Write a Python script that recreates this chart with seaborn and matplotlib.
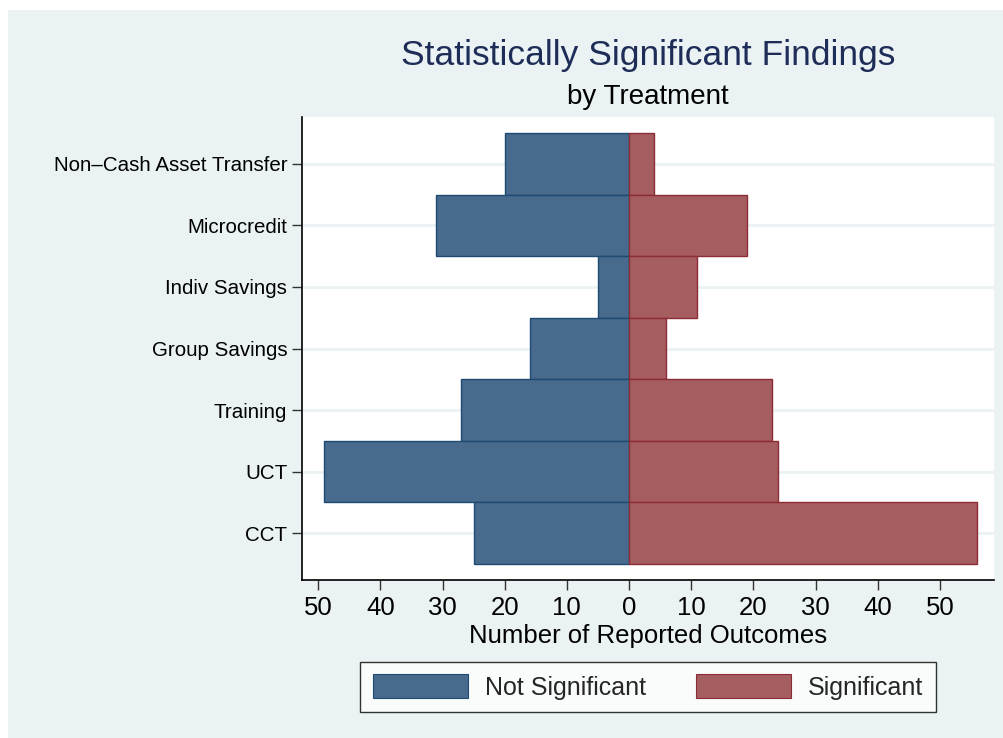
import matplotlib
matplotlib.use("Agg")
import matplotlib.pyplot as plt
import seaborn as sns
import pandas as pd
from matplotlib.patches import Rectangle, Patch

categories = ["Non\u2013Cash Asset Transfer", "Microcredit", "Indiv Savings",
              "Group Savings", "Training", "UCT", "CCT"]
not_significant = [20, 31, 5, 16, 27, 49, 25]
significant = [4, 19, 11, 6, 23, 24, 56]
xtick_values = [-50, -40, -30, -20, -10, 0, 10, 20, 30, 40, 50]
xtick_labels = ["50", "40", "30", "20", "10", "0", "10", "20", "30", "40", "50"]

title = "Statistically Significant Findings"
subtitle = "by Treatment"
xlabel = "Number of Reported Outcomes"
legend_labels = ["Not Significant", "Significant"]

BG = "#EAF2F3"
BLUE = "#486A8C"
BLUE_EDGE = "#1F4A73"
RED = "#A55D60"
RED_EDGE = "#8E2C35"

sns.set_theme(style="white")
plt.rcParams["font.family"] = ["Liberation Sans", "DejaVu Sans"]

df = pd.DataFrame({
    "cat": categories,
    "neg": [-v for v in not_significant],
    "pos": significant,
})

fig = plt.figure(figsize=(10.04, 7.38), dpi=100, facecolor="white")
fig.patches.append(Rectangle((8 / 1004, 0), 1, 1 - 10 / 738, transform=fig.transFigure,
                             facecolor=BG, edgecolor="none", zorder=-10))

ax = fig.add_axes([302 / 1004, 1 - 580 / 738, (994 - 302) / 1004, (580 - 117) / 738])
ax.set_facecolor("white")

sns.barplot(data=df, y="cat", x="neg", orient="h", color=BLUE, saturation=1,
            width=1.0, edgecolor=BLUE_EDGE, linewidth=1.0, ax=ax, zorder=3)
sns.barplot(data=df, y="cat", x="pos", orient="h", color=RED, saturation=1,
            width=1.0, edgecolor=RED_EDGE, linewidth=1.0, ax=ax, zorder=3)

ax.set_xlim(-52.6, 58.7)
ax.set_ylim(len(categories) - 1 + 0.764, -0.764)

for i in range(len(categories)):
    ax.axhline(i, color=BG, linewidth=2.0, zorder=1)

ax.set_xticks(xtick_values)
ax.set_xticklabels(xtick_labels)
ax.tick_params(axis="x", which="both", direction="out", length=7.2, width=1.0,
               color="#333333", labelsize=18.5, pad=4.5, bottom=True, labelcolor="black")
ax.tick_params(axis="y", which="both", direction="out", length=7.2, width=1.0,
               color="#333333", labelsize=14.8, pad=3.5, left=True, labelcolor="black")

ax.set_ylabel("")
ax.set_xlabel(xlabel, fontsize=18.5, labelpad=2.5, color="black")

for s in ["top", "right"]:
    ax.spines[s].set_visible(False)
for s in ["left", "bottom"]:
    ax.spines[s].set_color("black")
    ax.spines[s].set_linewidth(1.2)

fig.text(648 / 1004, 1 - 65 / 738, title, ha="center", va="baseline",
         fontsize=25.5, color="#1E2D57")
fig.text(648 / 1004, 1 - 104 / 738, subtitle, ha="center", va="baseline",
         fontsize=20, color="black")

handles = [Patch(facecolor=BLUE, edgecolor=BLUE_EDGE, linewidth=0.8),
           Patch(facecolor=RED, edgecolor=RED_EDGE, linewidth=0.8)]
leg = fig.legend(handles, legend_labels, loc="center", bbox_to_anchor=(648 / 1004, 1 - 687 / 738),
                 ncol=2, frameon=True, fancybox=False, edgecolor="black", facecolor="white",
                 fontsize=18, handlelength=3.8, handleheight=1.08, handletextpad=0.68,
                 columnspacing=2.0, borderpad=0.5, borderaxespad=0)
leg.get_frame().set_linewidth(1.0)

fig.savefig("out.png", dpi=100, facecolor=fig.get_facecolor())
